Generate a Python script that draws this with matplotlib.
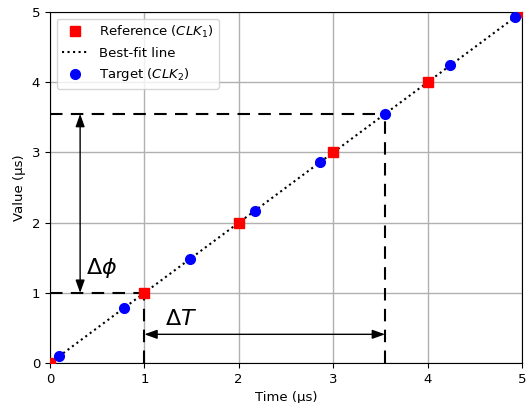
import matplotlib
matplotlib.use('Agg')
import matplotlib.pyplot as plt
import numpy as np

plt.rcParams['font.size'] = 9.5

# clock edges (us)
ref_t = [0, 1, 2, 3, 4, 5]
ref_v = [0, 1, 2, 3, 4, 5]
tgt_t = [0.1, 0.79, 1.48, 2.17, 2.86, 3.55, 4.24, 4.93]
tgt_v = [0.1, 0.79, 1.48, 2.17, 2.86, 3.55, 4.24, 4.93]
fit_t = [0, 5]
fit_v = [0, 5]

t1 = 1.0   # reference edge
t2 = 3.55  # target edge

fig = plt.figure(figsize=(5.31, 4.03), dpi=100)
ax = fig.add_axes([0.094, 0.099, 0.889, 0.871])

ax.plot(ref_t, ref_v, 's', color='red', markersize=7, label='Reference ($CLK_1$)', zorder=3)
ax.plot(fit_t, fit_v, ':', color='black', lw=1.5, label='Best-fit line', zorder=2)
ax.plot(tgt_t, tgt_v, 'o', color='blue', markersize=7, label='Target ($CLK_2$)', zorder=3)

# dashed guide lines
ax.plot([0, t1], [t1, t1], '--', color='black', lw=1.5, dashes=(6, 4))
ax.plot([t1, t1], [0, t1], '--', color='black', lw=1.5, dashes=(6, 4))
ax.plot([0, t2], [t2, t2], '--', color='black', lw=1.5, dashes=(6, 4))
ax.plot([t2, t2], [0, t2], '--', color='black', lw=1.5, dashes=(6, 4))

# arrows
arrow = dict(arrowstyle='<|-|>,head_length=0.7,head_width=0.25', color='black',
             lw=1, shrinkA=0, shrinkB=0, mutation_scale=11)
ax.annotate('', xy=(0.32, t1), xytext=(0.32, t2), arrowprops=arrow)
ax.annotate('', xy=(t1, 0.41), xytext=(t2, 0.41), arrowprops=arrow)
ax.text(0.38, 1.35, r'$\Delta\phi$', fontsize=16, va='center')
ax.text(1.22, 0.63, r'$\Delta T$', fontsize=16, va='center')

ax.set_xlim(0, 5)
ax.set_ylim(0, 5)
ax.set_xlabel('Time (µs)')
ax.set_ylabel('Value (µs)')
ax.grid(True, color='#b0b0b0', lw=1)
ax.set_axisbelow(True)
ax.legend(loc='upper left')

fig.savefig('out.png', dpi=100)
